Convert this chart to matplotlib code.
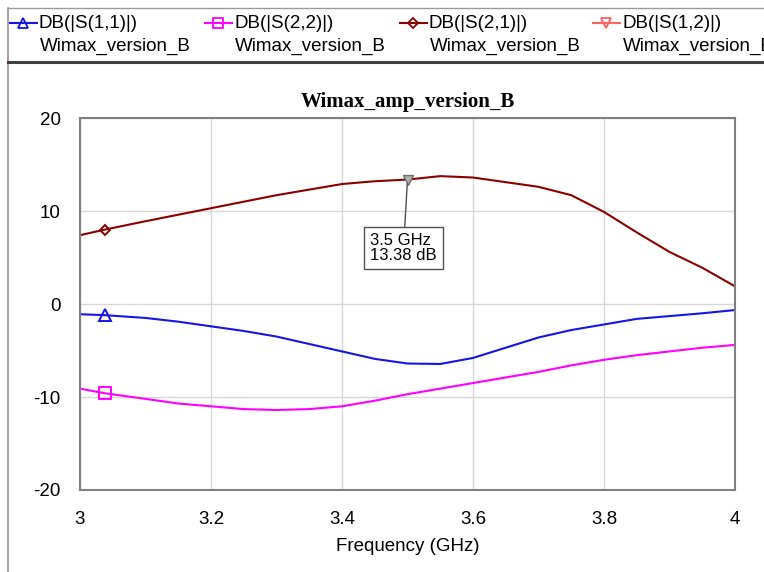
import matplotlib
matplotlib.use("Agg")
import matplotlib.pyplot as plt
from matplotlib.lines import Line2D

freq = [3.0, 3.038, 3.1, 3.15, 3.2, 3.25, 3.3, 3.35, 3.4, 3.45, 3.5, 3.55, 3.6, 3.65, 3.7, 3.75, 3.8, 3.85, 3.9, 3.95, 4.0]
s21 = [7.4, 8.0, 8.9, 9.6, 10.3, 11.0, 11.7, 12.3, 12.9, 13.2, 13.38, 13.75, 13.6, 13.1, 12.6, 11.7, 9.9, 7.7, 5.6, 3.9, 1.9]
s11 = [-1.1, -1.2, -1.5, -1.9, -2.4, -2.9, -3.5, -4.3, -5.1, -5.9, -6.4, -6.45, -5.8, -4.7, -3.6, -2.8, -2.2, -1.6, -1.3, -1.0, -0.65]
s22 = [-9.1, -9.6, -10.2, -10.7, -11.0, -11.3, -11.4, -11.3, -11.0, -10.4, -9.7, -9.1, -8.5, -7.9, -7.3, -6.6, -6.0, -5.5, -5.1, -4.7, -4.4]
marker_f = 3.038
xticks = [3, 3.2, 3.4, 3.6, 3.8, 4]
yticks = [-20, -10, 0, 10, 20]
legend_names = ["DB(|S(1,1)|)", "DB(|S(2,2)|)", "DB(|S(2,1)|)", "DB(|S(1,2)|)"]
legend_sub = "Wimax_version_B"
title = "Wimax_amp_version_B"
xlabel = "Frequency (GHz)"
ann_f, ann_v = 3.5, 13.38

plt.rcParams['font.family'] = ['Liberation Sans', 'DejaVu Sans']
plt.rcParams['axes.unicode_minus'] = False

W, H = 764, 572
fig = plt.figure(figsize=(W / 100, H / 100), dpi=100)
fig.patch.set_facecolor('white')

# outer frame / legend strip
fig.add_artist(Line2D([8 / W, 8 / W], [0, 1 - 8 / H], color='#9a9090', lw=1.2, transform=fig.transFigure))
fig.add_artist(Line2D([8 / W, 1], [1 - 8 / H, 1 - 8 / H], color='#9a9a9a', lw=1.0, transform=fig.transFigure))
fig.add_artist(Line2D([8 / W, 1], [1 - 62 / H, 1 - 62 / H], color='#404040', lw=2.2, transform=fig.transFigure))

ax = fig.add_axes([80 / W, 1 - 490 / H, 655 / W, 372 / H])

c11, c22, c21, c12 = '#1515e6', '#ff00ff', '#8b0000', '#ff6060'
ax.plot(freq, s21, color=c21, lw=1.5)
ax.plot(freq, s11, color=c11, lw=1.5)
ax.plot(freq, s22, color=c22, lw=1.5)
i = freq.index(marker_f)
ax.plot([freq[i]], [s11[i]], marker='^', ms=8, mfc='none', mec=c11, mew=1.4)
ax.plot([freq[i]], [s22[i]], marker='s', ms=8, mfc='none', mec=c22, mew=1.4)
ax.plot([freq[i]], [s21[i]], marker='D', ms=5, mfc='none', mec=c21, mew=1.4)

# annotation
ax.plot([ann_f], [ann_v], marker='v', ms=7, mfc='#b0b0b0', mec='#707070')
ax.annotate(f"{ann_f:g} GHz\n{ann_v:.2f} dB", xy=(ann_f, ann_v), xytext=(3.443, 7.6),
            fontsize=12, va='top', ha='left', linespacing=1.0,
            bbox=dict(boxstyle='square,pad=0.35', fc='white', ec='#505050', lw=1.0),
            arrowprops=dict(arrowstyle='-', color='#505050', lw=1.0, shrinkA=0, shrinkB=3))

ax.set_xlim(3, 4)
ax.set_ylim(-20, 20)
ax.set_xticks(xticks)
ax.set_xticklabels([f"{t:g}" for t in xticks])
ax.set_yticks(yticks)
ax.grid(True, color='#d8d8d8', lw=1.0)
ax.set_axisbelow(True)
ax.tick_params(length=0, labelsize=13.5, colors='black')
ax.tick_params(axis='x', pad=15)
ax.tick_params(axis='y', pad=14)
for s in ax.spines.values():
    s.set_color('#808080')
    s.set_linewidth(1.5)
ax.set_xlabel(xlabel, fontsize=13.5, labelpad=7)
ax.set_title(title, fontsize=15, fontweight='bold', family='Liberation Serif', pad=8)

# legend strip
xs = [10, 205, 400, 593]
cols = [c11, c22, c21, c12]
mks = ['^', 's', 'D', 'v']
for x0, name, col, mk in zip(xs, legend_names, cols, mks):
    y1 = 1 - 23 / H
    fig.add_artist(Line2D([x0 / W, (x0 + 27) / W], [y1, y1], color=col, lw=1.5, transform=fig.transFigure))
    fig.add_artist(Line2D([(x0 + 13) / W], [y1], marker=mk, ms=7 if mk != 'D' else 5,
                          mfc='none', mec=col, mew=1.3, transform=fig.transFigure))
    fig.text((x0 + 29) / W, y1, name, fontsize=13.5, va='center', ha='left')
    fig.text((x0 + 30) / W, 1 - 46 / H, legend_sub, fontsize=13.5, va='center', ha='left')

fig.savefig('out.png', dpi=100, facecolor='white')
